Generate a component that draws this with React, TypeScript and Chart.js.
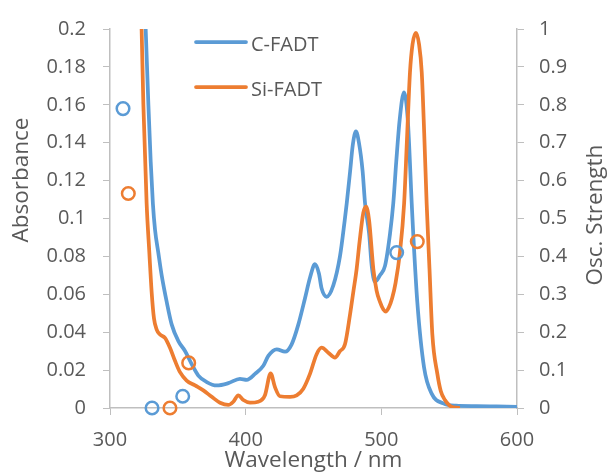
import React, { useEffect, useRef } from "react";
import { Chart, registerables } from "chart.js";

Chart.register(...registerables);

// ---- Data ----
const cWavelength = [
  318, 321, 324, 326.3, 328.3, 330, 331.6, 333.2, 335.6, 338.1, 341.8, 345.5, 350.4, 355.3, 360.2, 365.1,
  371.3, 378.6, 387.2, 395.8, 400.8, 406.9, 413, 416.7, 422.9, 429, 433.9, 438.8, 443.7, 447.5, 451.1, 454,
  456, 459.7, 464.6, 469.5, 473, 474.5, 477, 479, 481.3, 483.5, 486.2, 488, 491, 492.9, 495.3, 499, 502.7,
  506.4, 508.8, 511, 513.5, 516.7, 519.5, 522.4, 523.6, 526.5, 531.5, 537.1, 545.7, 555, 570, 585, 600,
];
const cAbsorbance = [
  0.42, 0.33, 0.25, 0.2, 0.16, 0.13, 0.108, 0.094, 0.082, 0.07, 0.056, 0.044, 0.0353, 0.0301, 0.0232, 0.0171,
  0.0137, 0.0119, 0.0131, 0.0154, 0.0149, 0.018, 0.0223, 0.0275, 0.031, 0.0297, 0.0336, 0.044, 0.0578, 0.069, 0.0759, 0.071,
  0.063, 0.0587, 0.0647, 0.08, 0.099, 0.108, 0.125, 0.139, 0.146, 0.14, 0.125, 0.108, 0.092, 0.075, 0.0666, 0.07, 0.075,
  0.092, 0.108, 0.13, 0.152, 0.1665, 0.152, 0.108, 0.0907, 0.056, 0.0214, 0.0076, 0.0024, 0.0012, 0.001, 0.0008, 0.0006,
];

const siWavelength = [
  316, 319.5, 321.5, 323.3, 324.6, 327, 329, 330.7, 332.4, 334.4, 336.9, 340.5, 344.2, 347.9, 351.6, 356.5,
  362.7, 368.8, 375, 381.1, 387.2, 390.9, 394.6, 398.3, 403.2, 409.3, 414.2, 418.4, 421.6, 425.3, 432.7, 437.6,
  442.5, 447.4, 452.3, 456, 460.9, 465.8, 469.5, 473.2, 476.9, 479.5, 481.8, 484, 486.7, 488.7, 491, 494.1,
  496.5, 499, 501.5, 503.4, 505.5, 508, 510.5, 513.7, 516.8, 518.8, 521.1, 523, 525.5, 527.8, 529.8, 531.6,
  533.4, 535.5, 537.6, 541.3, 543.8, 546.9, 550, 553, 558,
];
const siAbsorbance = [
  0.4, 0.3, 0.245, 0.2, 0.16, 0.108, 0.082, 0.0612, 0.0474, 0.0414, 0.0388, 0.037, 0.0318, 0.0249, 0.0189, 0.0145,
  0.0119, 0.0093, 0.0059, 0.0028, 0.0016, 0.0033, 0.0067, 0.0042, 0.0028, 0.0033, 0.0067, 0.0183, 0.011, 0.0062, 0.0059, 0.0067,
  0.0102, 0.018, 0.0284, 0.0318, 0.0292, 0.0266, 0.03, 0.0336, 0.0492, 0.062, 0.0734, 0.088, 0.103, 0.1063, 0.099, 0.0734,
  0.062, 0.056, 0.052, 0.0509, 0.053, 0.058, 0.066, 0.082, 0.108, 0.14, 0.177, 0.192, 0.198, 0.192, 0.177, 0.145,
  0.108, 0.0734, 0.0388, 0.018, 0.009, 0.0042, 0.0015, 0.0003, 0,
];

const cOscWavelength = [309.6, 331, 353.6, 511.3];
const cOscStrength = [0.79, 0, 0.031, 0.41];
const siOscWavelength = [313.5, 344.2, 358, 526.5];
const siOscStrength = [0.566, 0, 0.119, 0.439];

const xTicks = [300, 400, 500, 600];
const seriesNames = ["C-FADT", "Si-FADT"];

const BLUE = "#5B9BD5";
const ORANGE = "#ED7D31";
const TEXT = "#595959";
const AXIS = "#BFBFBF";
const FONT = "'Open Sans', 'Noto Sans', sans-serif";

const pts = (xs: number[], ys: number[]) => xs.map((x, i) => ({ x, y: ys[i] }));

const overlayPlugin = {
  id: "overlay",
  afterDraw(chart: any) {
    const ctx = chart.ctx;
    const area = chart.chartArea;
    ctx.save();
    ctx.fillStyle = TEXT;
    // legend
    const items = [
      { label: seriesNames[0], color: BLUE, y: 42 },
      { label: seriesNames[1], color: ORANGE, y: 87 },
    ];
    ctx.font = `20px ${FONT}`;
    ctx.textBaseline = "alphabetic";
    ctx.textAlign = "left";
    items.forEach((it) => {
      ctx.strokeStyle = it.color;
      ctx.lineWidth = 3.75;
      ctx.lineCap = "round";
      ctx.beginPath();
      ctx.moveTo(196, it.y);
      ctx.lineTo(246, it.y);
      ctx.stroke();
      ctx.fillText(it.label, 251, it.y + 8.5);
    });
    // axis titles
    ctx.font = `22.5px ${FONT}`;
    ctx.textAlign = "center";
    ctx.textBaseline = "middle";
    ctx.fillText("Wavelength / nm", (area.left + area.right) / 2, 461);
    ctx.save();
    ctx.translate(22, 180);
    ctx.rotate(-Math.PI / 2);
    ctx.fillText("Absorbance", 0, 0);
    ctx.restore();
    ctx.save();
    ctx.translate(596, 215);
    ctx.rotate(-Math.PI / 2);
    ctx.fillText("Osc. Strength", 0, 0);
    ctx.restore();
    ctx.restore();
  },
};

export default function App() {
  const ref = useRef<HTMLCanvasElement | null>(null);
  useEffect(() => {
    document.body.style.margin = "0";
    const canvas = ref.current;
    if (!canvas) return;
    const tickFont = { family: FONT, size: 20 };
    const chart = new Chart(canvas, {
      type: "line",
      data: {
        datasets: [
          {
            type: "scatter",
            label: "C-FADT osc",
            data: pts(cOscWavelength, cOscStrength),
            yAxisID: "y1",
            borderColor: BLUE,
            backgroundColor: "rgba(0,0,0,0)",
            pointRadius: 6.3,
            borderWidth: 2.5,
            clip: false,
            order: 0,
          } as any,
          {
            type: "scatter",
            label: "Si-FADT osc",
            data: pts(siOscWavelength, siOscStrength),
            yAxisID: "y1",
            borderColor: ORANGE,
            backgroundColor: "rgba(0,0,0,0)",
            pointRadius: 6.3,
            borderWidth: 2.5,
            clip: false,
            order: 0,
          } as any,
          {
            label: seriesNames[1],
            data: pts(siWavelength, siAbsorbance),
            yAxisID: "y",
            borderColor: ORANGE,
            borderWidth: 3.75,
            pointRadius: 0,
            cubicInterpolationMode: "monotone",
            fill: false,
            order: 1,
          },
          {
            label: seriesNames[0],
            data: pts(cWavelength, cAbsorbance),
            yAxisID: "y",
            borderColor: BLUE,
            borderWidth: 3.75,
            pointRadius: 0,
            cubicInterpolationMode: "monotone",
            fill: false,
            order: 2,
          },
        ],
      },
      options: {
        animation: false,
        responsive: false,
        events: [],
        layout: { padding: { top: 23, left: 0, right: 0, bottom: 0 } },
        plugins: { legend: { display: false }, tooltip: { enabled: false } },
        scales: {
          x: {
            type: "linear",
            min: 300,
            max: 600,
            afterBuildTicks: (s: any) => {
              s.ticks = xTicks.map((v) => ({ value: v }));
            },
            afterFit: (s: any) => {
              s.height = 67;
            },
            ticks: { color: TEXT, font: tickFont, padding: 13, maxRotation: 0 },
            grid: { drawOnChartArea: false, drawTicks: true, tickLength: 7, color: AXIS },
            border: { display: true, color: AXIS, width: 1.5 },
          },
          y: {
            type: "linear",
            position: "left",
            min: 0,
            max: 0.2,
            afterFit: (s: any) => {
              s.width = 110;
            },
            ticks: {
              stepSize: 0.02,
              color: TEXT,
              font: tickFont,
              padding: 17,
              callback: (v: any) => String(Number(Number(v).toFixed(2))),
            },
            grid: { drawOnChartArea: false, drawTicks: true, tickLength: 7, color: AXIS },
            border: { display: true, color: AXIS, width: 1.5 },
          },
          y1: {
            type: "linear",
            position: "right",
            min: 0,
            max: 1,
            afterFit: (s: any) => {
              s.width = 91;
            },
            ticks: {
              stepSize: 0.1,
              color: TEXT,
              font: tickFont,
              padding: 15,
              callback: (v: any) => String(Number(Number(v).toFixed(1))),
            },
            grid: { drawOnChartArea: false, drawTicks: true, tickLength: 7, color: AXIS },
            border: { display: true, color: AXIS, width: 1.5 },
          },
        },
      },
      plugins: [overlayPlugin],
    });
    return () => chart.destroy();
  }, []);
  return (
    <div style={{ width: 608, height: 475, background: "#fff" }}>
      <canvas ref={ref} width={608} height={475} style={{ display: "block" }} />
    </div>
  );
}
